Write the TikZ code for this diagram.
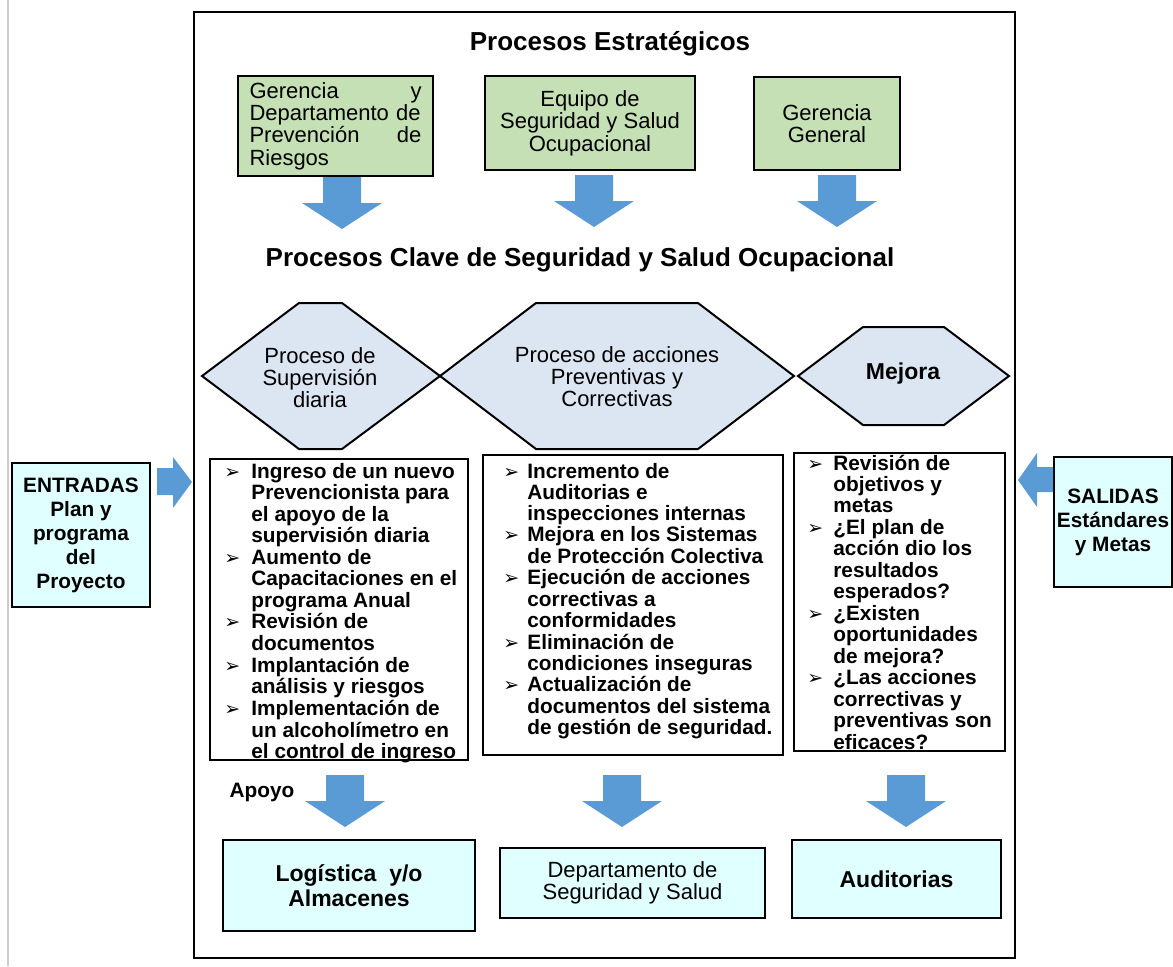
\documentclass[tikz,border=0pt]{standalone}
\usepackage{fontspec}
\setmainfont{Liberation Sans}
\newfontfamily\simb{DejaVu Sans}
\usepackage{tikz}
\usetikzlibrary{positioning}
\definecolor{verde}{RGB}{197,224,180}
\definecolor{celeste}{RGB}{220,230,242}
\definecolor{cian}{RGB}{224,255,255}
\definecolor{azul}{RGB}{91,155,213}
\newcommand{\flec}{{\simb\fontsize{9.5}{9.5}\selectfont ➢}}
\newcommand{\bajar}[2]{\fill[flecha] (#1-19,#2) -- (#1+19,#2) -- (#1+19,#2+26) -- (#1+40,#2+26) -- (#1,#2+52) -- (#1-40,#2+26) -- (#1-19,#2+26) -- cycle;}

\begin{document}
\begin{tikzpicture}[x=0.5pt,y=-0.5pt,
  caja/.style={draw, line width=0.8pt, inner sep=0pt},
  gcaja/.style={caja, fill=verde, font=\fontsize{11}{11.2}\selectfont},
  ccaja/.style={caja, fill=cian},
  hexa/.style={draw, line width=1pt, fill=celeste, line join=miter},
  flecha/.style={fill=azul},
  titulo/.style={font=\bfseries\fontsize{13}{15}\selectfont},
  lista/.style={inner sep=0pt, font=\bfseries\fontsize{10.4}{10.73}\selectfont},
  htexto/.style={align=center, font=\fontsize{11}{11}\selectfont}]
\useasboundingbox (0,0) rectangle (1173,966);
\draw[black!20, line width=1pt] (8,0) -- (8,966);
\draw[line width=0.8pt] (194,12) rectangle (1015,958);

\node[titulo] (estr) at (610,44) {Procesos Estratégicos};
\node[gcaja, minimum width=97.5pt, minimum height=50pt, text width=86pt, align=left] (ger) at (335.5,126)
  {Gerencia\hfill y\\Departamento de\\Prevención\hfill de\\Riesgos};
\node[gcaja, minimum width=105pt, minimum height=47pt, align=center] (equ) at (590,123)
  {Equipo de\\Seguridad y Salud\\Ocupacional};
\node[gcaja, minimum width=73pt, minimum height=46.5pt, align=center] (gen) at (827,123.5)
  {Gerencia\\General};
\bajar{342}{177}
\bajar{594}{175}
\bajar{837}{175}

\node[titulo] (clave) at (580,260) {Procesos Clave de Seguridad y Salud Ocupacional};
\filldraw[hexa] (202,376) -- (299,303) -- (342,303) -- (440,376) -- (342,449) -- (299,449) -- cycle;
\filldraw[hexa] (440,376) -- (536,303) -- (698,303) -- (794,376) -- (698,449) -- (536,449) -- cycle;
\filldraw[hexa] (798,376) -- (863,327) -- (944,327) -- (1009,376) -- (944,425) -- (863,425) -- cycle;
\node[htexto] (sup) at (320,378) {Proceso de\\Supervisión\\diaria};
\node[htexto] (acc) at (617,377) {Proceso de acciones\\Preventivas y\\Correctivas};
\node[htexto, font=\bfseries\fontsize{11.5}{12}\selectfont] (mej) at (903,374) {Mejora};

\node[caja, minimum width=129pt, minimum height=150.5pt] (l1) at (339,609.5) {};
\node[caja, minimum width=150pt, minimum height=150pt] (m1) at (633,605) {};
\node[caja, minimum width=105.5pt, minimum height=149pt] (r1) at (899.5,602) {};
\node[lista, anchor=base west] (l1t) at (224,478) {\begin{tabular}[t]{@{}p{13.5pt}@{}l@{}}
\flec & Ingreso de un nuevo\\
 & Prevencionista para\\
 & el apoyo de la\\
 & supervisión diaria\\
\flec & Aumento de\\
 & Capacitaciones en el\\
 & programa Anual\\
\flec & Revisión de\\
 & documentos\\
\flec & Implantación de\\
 & análisis y riesgos\\
\flec & Implementación de\\
 & un alcoholímetro en\\
 & el control de ingreso
\end{tabular}};
\node[lista, font=\bfseries\fontsize{10.4}{10.4}\selectfont, anchor=base west] (m1t) at (503,478) {\begin{tabular}[t]{@{}p{12pt}@{}l@{}}
\flec & Incremento de\\
 & Auditorias e\\
 & inspecciones internas\\
\flec & Mejora en los Sistemas\\
 & de Protección Colectiva\\
\flec & Ejecución de acciones\\
 & correctivas a\\
 & conformidades\\
\flec & Eliminación de\\
 & condiciones inseguras\\
\flec & Actualización de\\
 & documentos del sistema\\
 & de gestión de seguridad.
\end{tabular}};
\node[lista, font=\bfseries\fontsize{10.4}{10.65}\selectfont, anchor=base west] (r1t) at (807,470) {\begin{tabular}[t]{@{}p{13pt}@{}l@{}}
\flec & Revisión de\\
 & objetivos y\\
 & metas\\
\flec & ¿El plan de\\
 & acción dio los\\
 & resultados\\
 & esperados?\\
\flec & ¿Existen\\
 & oportunidades\\
 & de mejora?\\
\flec & ¿Las acciones\\
 & correctivas y\\
 & preventivas son\\
 & eficaces?
\end{tabular}};

\node[ccaja, minimum width=69pt, minimum height=72pt, align=center, font=\bfseries\fontsize{10.4}{12}\selectfont] (ent) at (81,535)
  {ENTRADAS\\Plan y\\programa\\del\\Proyecto};
\fill[flecha] (157,468) -- (173,468) -- (173,457) -- (192,482) -- (173,508) -- (173,495) -- (157,495) -- cycle;
\node[ccaja, minimum width=59pt, minimum height=65pt, align=center, font=\bfseries\fontsize{10.4}{12}\selectfont] (sal) at (1113,522)
  {SALIDAS\\Estándares\\y Metas};
\fill[flecha] (1053,467) -- (1037,467) -- (1037,453) -- (1018,480) -- (1037,507) -- (1037,492) -- (1053,492) -- cycle;

\node[font=\bfseries\fontsize{10.4}{12}\selectfont] (apoyo) at (262,792) {Apoyo};
\bajar{345}{775}
\bajar{622}{775}
\bajar{906}{775}
\node[ccaja, minimum width=126pt, minimum height=45.5pt, align=center, font=\bfseries\fontsize{11.5}{12.5}\selectfont] (log) at (349,885.5)
  {Logística\ \ y/o\\Almacenes};
\node[ccaja, minimum width=132.5pt, minimum height=35pt, align=center, font=\fontsize{11}{11}\selectfont] (dep) at (632.5,883)
  {Departamento de\\Seguridad y Salud};
\node[ccaja, minimum width=104.5pt, minimum height=39pt, font=\bfseries\fontsize{11.5}{12.5}\selectfont] (aud) at (896.5,879)
  {Auditorias};
\end{tikzpicture}
\end{document}
